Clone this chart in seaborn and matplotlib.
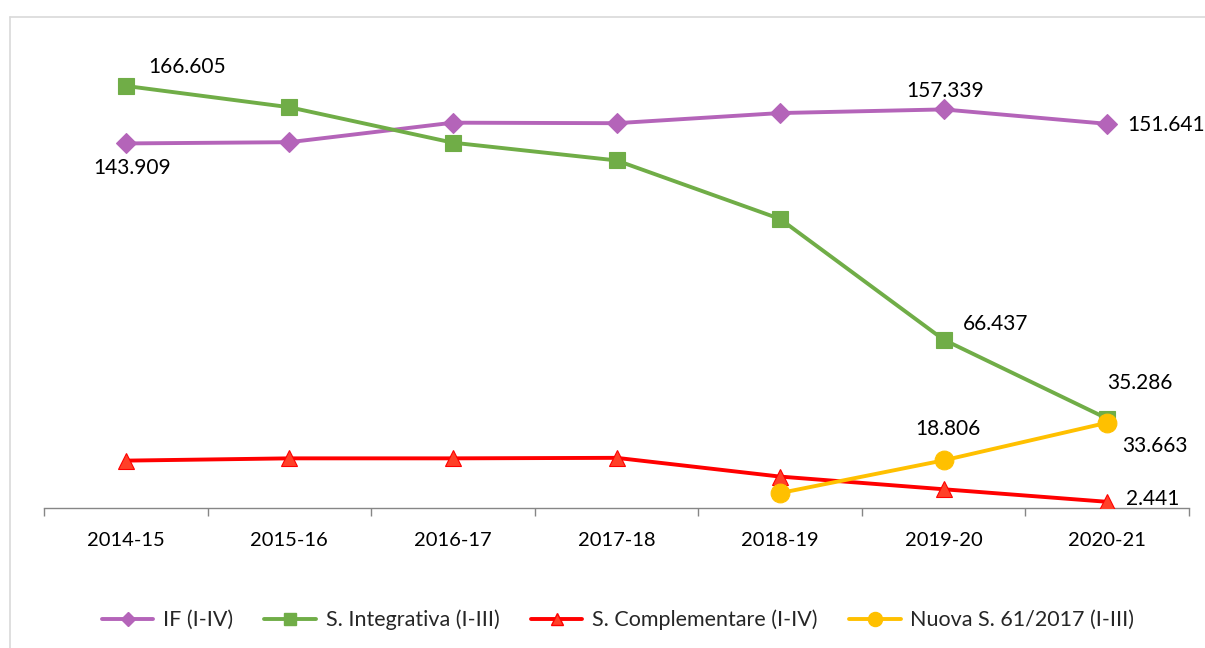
import numpy as np
import pandas as pd
import matplotlib
matplotlib.use("Agg")
import matplotlib.pyplot as plt
from matplotlib.lines import Line2D
import seaborn as sns

years = ["2014-15", "2015-16", "2016-17", "2017-18", "2018-19", "2019-20", "2020-21"]
if_vals = [143.909, 144.4, 152.1, 151.9, 155.9, 157.339, 151.641]
integr_vals = [166.605, 158.2, 144.2, 137.2, 114.1, 66.437, 35.286]
compl_vals = [18.7, 19.6, 19.6, 19.8, 12.4, 7.4, 2.441]
nuova_vals = [np.nan, np.nan, np.nan, np.nan, 5.9, 18.806, 33.663]

series_names = ["IF (I-IV)", "S. Integrativa (I-III)", "S. Complementare (I-IV)", "Nuova S. 61/2017 (I-III)"]

sns.set_style("white")
plt.rcParams["font.family"] = ["Lato", "DejaVu Sans"]

W, H = 1205, 648
fig = plt.figure(figsize=(W / 100, H / 100), dpi=100)
ax = fig.add_axes([44 / W, 1 - 508 / H, 1145 / W, 456 / H])

x = np.arange(len(years))
styles = [
    dict(color="#B464B9", marker="D", markersize=10, mfc="#B464B9", mec="#B464B9"),
    dict(color="#70AD47", marker="s", markersize=11, mfc="#70AD47", mec="#70AD47"),
    dict(color="#FF0000", marker="^", markersize=11.5, mfc="#FF4028", mec="#FF0000"),
    dict(color="#FFC000", marker="o", markersize=13.5, mfc="#FFC000", mec="#FFC000"),
]
all_vals = [if_vals, integr_vals, compl_vals, nuova_vals]
for name, vals, st in zip(series_names, all_vals, styles):
    df = pd.DataFrame({"x": x, "y": vals}).dropna()
    sns.lineplot(data=df, x="x", y="y", ax=ax, color=st["color"], linewidth=2.8,
                 marker=st["marker"], markersize=st["markersize"],
                 markerfacecolor=st["mfc"], markeredgecolor=st["mec"], markeredgewidth=0.8,
                 legend=False, zorder=3)

ax.set_xlim(-0.5, len(years) - 0.5)
ax.set_ylim(0, 180)
ax.set_xlabel("")
ax.set_ylabel("")
ax.set_yticks([])
ax.set_xticks(x)
ax.set_xticklabels(years, fontsize=14.5, color="#000000")
ax.set_xticks(np.arange(-0.5, len(years), 1.0), minor=True)
ax.tick_params(axis="x", which="major", bottom=False, length=0, pad=17)
ax.tick_params(axis="x", which="minor", bottom=True, length=5.5, width=1,
               color="#868686", direction="out")
for s in ["left", "top", "right"]:
    ax.spines[s].set_visible(False)
ax.spines["bottom"].set_color("#868686")
ax.spines["bottom"].set_linewidth(1)
ax.patch.set_alpha(0)

labels = [
    (0, integr_vals[0], "166.605", 61, 19, "center"),
    (0, if_vals[0], "143.909", 6, -25, "center"),
    (5, if_vals[5], "157.339", 1, 18, "center"),
    (6, if_vals[6], "151.641", 20, -1, "left"),
    (5, integr_vals[5], "66.437", 19, 16, "left"),
    (6, integr_vals[6], "35.286", 33, 36, "center"),
    (5, nuova_vals[5], "18.806", 4, 31, "center"),
    (6, nuova_vals[6], "33.663", 48, -23, "center"),
    (6, compl_vals[6], "2.441", 19, 3, "left"),
]
for xi, yi, txt, dx, dy, ha in labels:
    ax.annotate(txt, (xi, yi), xytext=(dx, dy), textcoords="offset pixels",
                ha=ha, va="center", fontsize=15, color="#000000", annotation_clip=False)

handles = [Line2D([], [], color=st["color"], linewidth=2.8, marker=st["marker"],
                  markersize=st["markersize"] * 0.75, markerfacecolor=st["mfc"],
                  markeredgecolor=st["mec"]) for st in styles]
fig.legend(handles, series_names, loc="center", bbox_to_anchor=(618 / W, 1 - 620 / H),
           ncol=4, frameon=False, fontsize=15.5, handlelength=2.4, handletextpad=0.45,
           columnspacing=1.45)

# chart border (light gray)
fig.add_artist(Line2D([9.5 / W, 9.5 / W], [0, 1 - 16.5 / H], transform=fig.transFigure,
                      color="#D9D9D9", linewidth=1.2))
fig.add_artist(Line2D([9.5 / W, 1], [1 - 16.5 / H, 1 - 16.5 / H], transform=fig.transFigure,
                      color="#D9D9D9", linewidth=1.2))

fig.savefig("out.png", dpi=100, facecolor="white")
